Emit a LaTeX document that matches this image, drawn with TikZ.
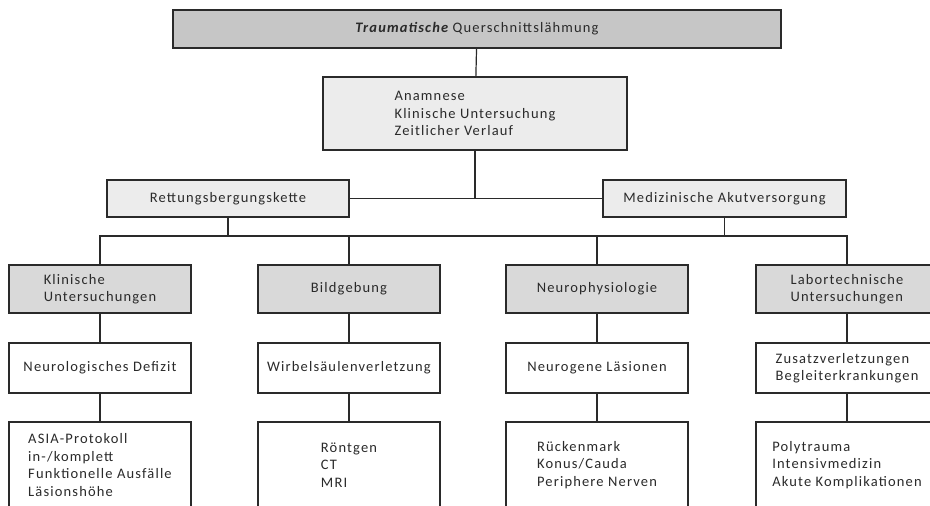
\documentclass[tikz,border=0pt]{standalone}
\usepackage{fontspec}
\setmainfont{Carlito}[LetterSpace=8]
\definecolor{titlegray}{HTML}{C6C6C6}
\definecolor{midgray}{HTML}{D9D9D9}
\definecolor{lightgray}{HTML}{ECECEC}
\definecolor{ink}{HTML}{2A2A2A}
\begin{document}
\begin{tikzpicture}[x=1pt,y=-1pt,
  box/.style={draw=ink, line width=1.2pt, inner sep=0pt, outer sep=0pt,
    align=left, text=ink, font=\fontsize{14.5}{17.5}\selectfont},
  titlebox/.style={box, fill=titlegray, line width=1.8pt, minimum width=608pt, minimum height=38pt},
  lightbox/.style={box, fill=lightgray},
  catbox/.style={box, fill=midgray, minimum width=182pt, minimum height=48pt},
  findbox/.style={box, fill=white, minimum width=182pt, minimum height=50pt},
  detailbox/.style={box, fill=white, minimum width=182pt, minimum height=86pt, anchor=north},
  conn/.style={draw=ink, line width=1.2pt}]
\useasboundingbox (0,0) rectangle (930,506);
\clip (0,0) rectangle (930,506);

\node[titlebox] (title) at (477,29) {{\bfseries\itshape Traumatische} Querschnittslähmung};
\node[lightbox, minimum width=304pt, minimum height=73pt] (anam) at (475,113.5)
  {Anamnese\\Klinische Untersuchung\\Zeitlicher Verlauf};
\node[lightbox, minimum width=242pt, minimum height=37pt] (ret) at (228,198.5) {Rettungsbergungskette};
\node[lightbox, minimum width=243pt, minimum height=37pt] (med) at (724.5,198.5) {Medizinische Akutversorgung};

\node[catbox] (kl) at (100,289) {Klinische\\Untersuchungen};
\node[catbox] (bild) at (349,289) {Bildgebung};
\node[catbox] (neuro) at (597,289) {Neurophysiologie};
\node[catbox] (lab) at (847,289) {Labortechnische\\Untersuchungen};

\node[findbox] (def) at (100,368) {Neurologisches Defizit};
\node[findbox] (wirb) at (349,368) {Wirbelsäulenverletzung};
\node[findbox] (les) at (597,368) {Neurogene Läsionen};
\node[findbox] (zus) at (847,368) {Zusatzverletzungen\\Begleiterkrankungen};

\node[detailbox] (asia) at (100,422) {ASIA-Protokoll\\in-/komplett\\Funktionelle Ausfälle\\Läsionshöhe};
\node[detailbox] (img) at (349,422) {Röntgen\\CT\\MRI};
\node[detailbox] (nerv) at (597,422) {Rückenmark\\Konus/Cauda\\Periphere Nerven};
\node[detailbox] (poly) at (847,422) {Polytrauma\\Intensivmedizin\\Akute Komplikationen};

\coordinate (bus) at (0,236);

\draw[conn] (title) -- (anam);
\draw[conn] (ret) -- (med);
\draw[conn] (anam.south) -- (anam.south |- ret.east);
\draw[conn] (kl.north) -- (kl.north |- bus) -- (lab.north |- bus) -- (lab.north);
\draw[conn] (ret.south) -- (ret.south |- bus);
\draw[conn] (med.south) -- (med.south |- bus);
\draw[conn] (bild.north) -- (bild.north |- bus);
\draw[conn] (neuro.north) -- (neuro.north |- bus);
\foreach \a/\b/\c in {kl/def/asia, bild/wirb/img, neuro/les/nerv, lab/zus/poly} {
  \draw[conn] (\a) -- (\b);
  \draw[conn] (\b) -- (\c);
}
\end{tikzpicture}
\end{document}
